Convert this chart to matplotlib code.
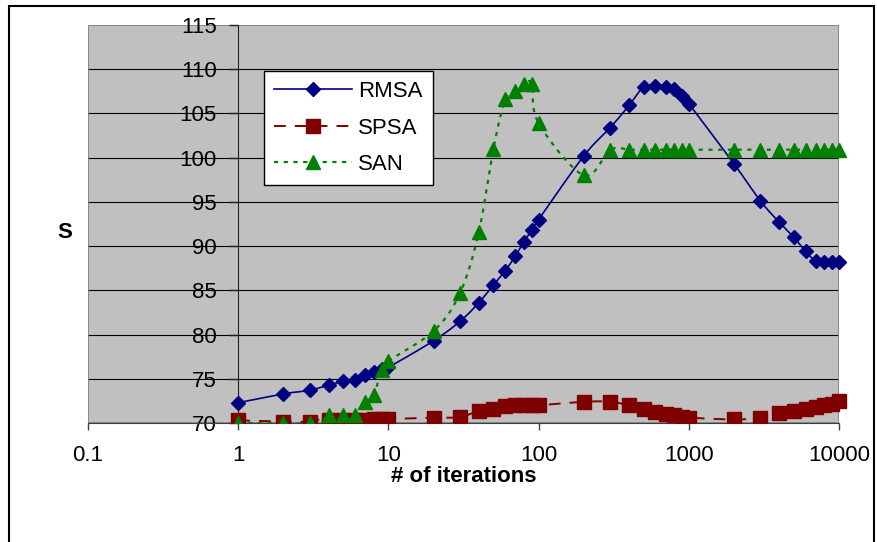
import numpy as np
import matplotlib
matplotlib.use("Agg")
import matplotlib.pyplot as plt
from matplotlib.patches import Rectangle

plt.rcParams['font.family'] = ['Liberation Sans', 'DejaVu Sans']
plt.rcParams['lines.scale_dashes'] = False

# iteration counts and the value of S for each method
iters = [1, 2, 3, 4, 5, 6, 7, 8, 9, 10,
         20, 30, 40, 50, 60, 70, 80, 90, 100,
         200, 300, 400, 500, 600, 700, 800, 900, 1000,
         2000, 3000, 4000, 5000, 6000, 7000, 8000, 9000, 10000]
rmsa = [72.3, 73.3, 73.7, 74.3, 74.7, 74.9, 75.4, 75.8, 76.1, 76.3,
        79.3, 81.5, 83.6, 85.6, 87.2, 88.9, 90.5, 91.8, 93.0,
        100.2, 103.4, 105.9, 108.0, 108.1, 108.0, 107.8, 107.0, 106.1,
        99.3, 95.1, 92.7, 91.0, 89.4, 88.3, 88.2, 88.2, 88.2]
spsa = [70.3, 70.15, 70.15, 70.3, 70.3, 70.3, 70.35, 70.4, 70.4, 70.45,
        70.6, 70.65, 71.4, 71.6, 71.9, 72.0, 72.0, 72.0, 72.0,
        72.4, 72.4, 72.0, 71.6, 71.2, 71.0, 70.9, 70.7, 70.6,
        70.4, 70.6, 71.1, 71.35, 71.6, 71.8, 72.0, 72.2, 72.5]
san = [70.0, 70.0, 70.0, 70.9, 70.9, 70.9, 72.4, 73.2, 76.0, 77.0,
       80.4, 84.7, 91.6, 101.0, 106.6, 107.5, 108.3, 108.3, 103.9,
       98.0, 100.9, 100.9, 100.9, 100.9, 100.9, 100.9, 100.9, 100.9,
       100.9, 100.9, 100.9, 100.9, 100.9, 100.9, 100.9, 100.9, 100.9]

xticks = [0.1, 1, 10, 100, 1000, 10000]
xtick_labels = ['0.1', '1', '10', '100', '1000', '10000']
yticks = [70, 75, 80, 85, 90, 95, 100, 105, 110, 115]


def smooth(xs, ys, n=24):
    # bezier smoothing through every point, done in log10(x) space
    u = np.log10(np.asarray(xs, float))
    v = np.asarray(ys, float)
    pts = np.column_stack([u, v])
    out = []
    for i in range(len(pts) - 1):
        p0 = pts[max(i - 1, 0)]
        p1 = pts[i]
        p2 = pts[i + 1]
        p3 = pts[min(i + 2, len(pts) - 1)]
        c1 = p1 + (p2 - p0) / 6
        c2 = p2 - (p3 - p1) / 6
        t = np.linspace(0, 1, n)[:, None]
        seg = ((1 - t) ** 3 * p1 + 3 * (1 - t) ** 2 * t * c1
               + 3 * (1 - t) * t ** 2 * c2 + t ** 3 * p2)
        out.append(seg if i == 0 else seg[1:])
    out = np.vstack(out)
    return 10 ** out[:, 0], out[:, 1]


W, H = 877, 542
fig = plt.figure(figsize=(W / 100, H / 100), dpi=100)
fig.patch.set_facecolor('white')

# outer chart frame
fig.patches.append(Rectangle((8.5 / W, -0.05), (874 - 8.5) / W, 1.05 - 5.5 / H,
                             transform=fig.transFigure, fill=False,
                             edgecolor='black', linewidth=1.5))

L, R, T, B = 88, 839, 25, 423
ax = fig.add_axes([L / W, 1 - B / H, (R - L) / W, (B - T) / H])
ax.set_facecolor('#C0C0C0')
ax.set_xscale('log')
ax.set_xlim(0.1, 10000)
ax.set_ylim(70, 115)

for y in yticks[1:-1]:
    ax.axhline(y, color='black', linewidth=0.8, zorder=1)

ax.add_patch(Rectangle((0, 0), 1, 1, transform=ax.transAxes, fill=False,
                       edgecolor='#808080', linewidth=1.2, zorder=1))

# markers are cut off at the x axis only
mclip = Rectangle((-0.1, 0), 1.2, 1.2, transform=ax.transAxes)

sx, sy = smooth(iters, rmsa)
ax.plot(sx, sy, color='#000080', linewidth=1.2, zorder=3)
m1, = ax.plot(iters, rmsa, linestyle='none', marker='D', markersize=7.5,
              color='#000080', zorder=4)

sx, sy = smooth(iters, spsa)
ax.plot(sx, sy, color='#800000', linewidth=1.4, dashes=(8.5, 6.5), zorder=3)
m2, = ax.plot(iters, spsa, linestyle='none', marker='s', markersize=10,
              color='#800000', zorder=4)

sx, sy = smooth(iters, san)
ax.plot(sx, sy, color='#008000', linewidth=1.6, dashes=(3, 4), zorder=3)
m3, = ax.plot(iters, san, linestyle='none', marker='^', markersize=9.5,
              color='#008000', zorder=5)

for m in (m1, m2, m3):
    m.set_clip_path(mclip)

# legend entries built from the same styles
h1, = ax.plot([], [], color='#000080', linewidth=1.2, marker='D', markersize=7.5)
h2, = ax.plot([], [], color='#800000', linewidth=1.4, dashes=(8.5, 6.5),
              marker='s', markersize=10)
h3, = ax.plot([], [], color='#008000', linewidth=1.6, dashes=(3, 4),
              marker='^', markersize=9.5)
leg = ax.legend([h1, h2, h3], ['RMSA', 'SPSA', 'SAN'],
                loc='upper left',
                bbox_to_anchor=((264 - L) / (R - L), (B - 71) / (B - T)),
                fontsize=16, frameon=True, fancybox=False, framealpha=1,
                edgecolor='black', borderaxespad=0, borderpad=0.45,
                handlelength=3.5, handletextpad=0.3, labelspacing=0.7)
leg.get_frame().set_linewidth(1.0)
leg.set_zorder(10)

# y axis crosses at x = 1
for side in ['top', 'right']:
    ax.spines[side].set_visible(False)
ax.spines['left'].set_position(('data', 1))
ax.spines['left'].set_color('#202020')
ax.spines['bottom'].set_color('#404040')
ax.spines['left'].set_zorder(2)

ax.set_xticks(xticks)
ax.set_xticklabels(xtick_labels)
ax.xaxis.set_minor_locator(matplotlib.ticker.NullLocator())
ax.set_yticks(yticks)
ax.tick_params(axis='x', direction='out', length=5, width=1, pad=11,
               labelsize=16, color='#404040')
ax.tick_params(axis='y', direction='out', length=6.5, width=1, pad=9,
               labelsize=16, color='#202020')

ax.set_xlabel('# of iterations', fontsize=16, fontweight='bold')
ax.xaxis.set_label_coords(0.5, -(477 - B) / (B - T))
ax.xaxis.label.set_va('center')
ax.set_ylabel('S', fontsize=16, fontweight='bold', rotation=0)
ax.yaxis.set_label_coords((65 - L) / (R - L), (B - 233) / (B - T))
ax.yaxis.label.set_va('center')

fig.savefig('out.png', dpi=100)
